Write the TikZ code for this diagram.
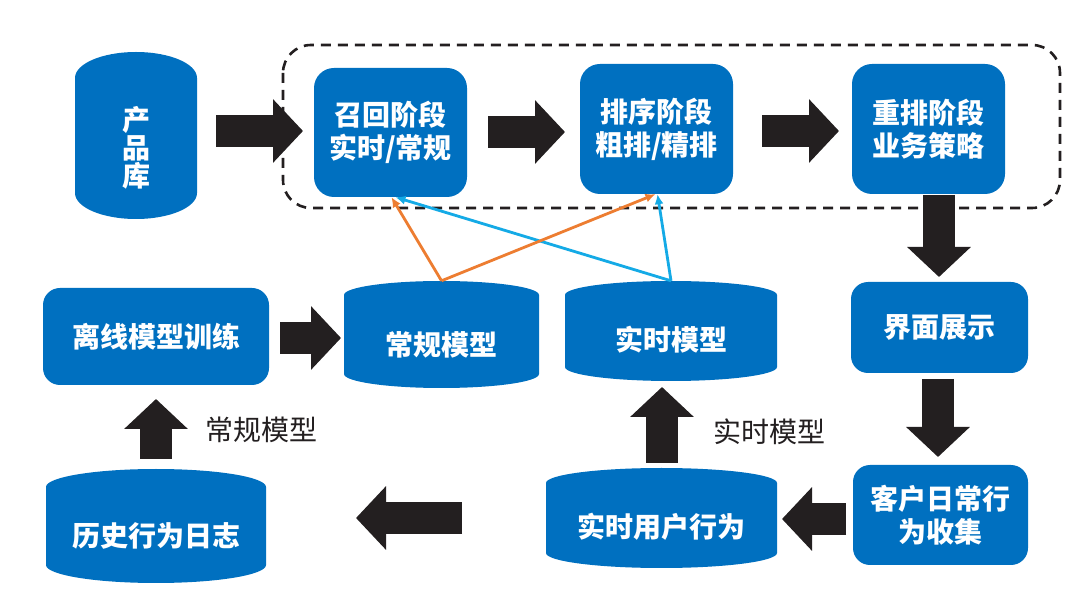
\documentclass[tikz,border=0pt]{standalone}
\usepackage{fontspec}
\setmainfont{Noto Sans CJK SC}
\usetikzlibrary{arrows.meta,calc}
\definecolor{mainblue}{RGB}{0,112,192}
\definecolor{arrowblack}{RGB}{35,31,32}
\definecolor{lineorange}{RGB}{237,125,49}
\definecolor{lineblue}{RGB}{20,170,230}
\tikzset{
  cylshape/.style={inner sep=0pt},
  cyltext/.style={inner sep=0pt, text=white, align=center, font=\bfseries\fontsize{28}{33}\selectfont},
  bluebox/.style={fill=mainblue, rounded corners=20pt, inner sep=0pt, text=white, align=center, font=\bfseries\fontsize{28}{33}\selectfont},
  blockarrow/.style={draw=arrowblack, line width=32pt, -{Triangle[length=30pt,width=62pt]}},
  frame/.style={draw=arrowblack, line width=2.6pt, dash pattern=on 10pt off 7pt, rounded corners=28pt},
  orangeline/.style={draw=lineorange, line width=2.8pt, -{Latex[length=10pt,width=9pt]}},
  blueline/.style={draw=lineblue, line width=2.8pt, -{Latex[length=10pt,width=9pt]}},
  plainlabel/.style={inner sep=0pt, text=arrowblack, font=\fontsize{28}{33}\selectfont},
}
% name, x1, x2, side top, side bottom, cap, text offset, text
\newcommand{\dbcyl}[8]{%
  \fill[mainblue] (#2,#4) -- (#2,#5) arc[start angle=180,end angle=0,x radius={(#3-#2)/2},y radius=#6] -- (#3,#4) arc[start angle=0,end angle=-180,x radius={(#3-#2)/2},y radius=#6] -- cycle;
  \node[cylshape, minimum width={(#3-#2)*1pt}, minimum height={(#5-#4+2*#6)*1pt}] (#1) at ({(#2+#3)/2},{(#4+#5)/2}) {};
  \node[cyltext] (#1t) at ([yshift=-#7pt]#1.center) {#8};
}
\begin{document}
\begin{tikzpicture}[x=1pt,y=-1pt]
\useasboundingbox (0,0) rectangle (1080,609);
\fill[white] (0,0) rectangle (1080,609);

% dashed frame
\draw[frame] (283,45) rectangle (1060,208);

% cylinders
\dbcyl{cpk}{75}{197}{78}{193}{26}{12}{产\\[-5pt]品\\[-5pt]库}
\dbcyl{cg}{344}{539}{295}{374}{14}{10}{常规模型}
\dbcyl{ss}{565}{777}{295}{367}{14}{9}{实时模型}
\dbcyl{sy}{546}{777}{483}{553}{15}{9}{实时用户行为}
\dbcyl{ls}{46}{266}{487}{565}{18}{10}{历史行为日志}

% boxes
\node[bluebox, minimum width=153pt, minimum height=129pt] (zh) at (390.5,132.5) {召回阶段\\实时/常规};
\node[bluebox, minimum width=153pt, minimum height=130pt] (px) at (656.5,129) {排序阶段\\粗排/精排};
\node[bluebox, minimum width=153pt, minimum height=130pt] (cpx) at (928.5,129) {重排阶段\\业务策略};
\node[bluebox, minimum width=177pt, minimum height=91pt, rounded corners=17pt] (jm) at (939.5,327.5) {界面展示};
\node[bluebox, minimum width=175pt, minimum height=100pt, rounded corners=17pt] (kh) at (940.5,515) {客户日常行\\为收集};
\node[bluebox, minimum width=226pt, minimum height=97pt, rounded corners=17pt] (lx) at (156,336.5) {离线模型训练};

% labels
\node[plainlabel] (lb1) at (261,430) {常规模型};
\node[plainlabel] (lb2) at (769,432) {实时模型};

% block arrow end points
\coordinate (a1s) at (216,131); \coordinate (a1e) at (303,131);
\coordinate (a2s) at (488,132); \coordinate (a2e) at (565,132);
\coordinate (a3s) at (762,131); \coordinate (a3e) at (839,131);
\coordinate (a4s) at (939,195); \coordinate (a4e) at (939,277);
\coordinate (a5s) at (938,379); \coordinate (a5e) at (938,457);
\coordinate (a6s) at (846,519); \coordinate (a6e) at (782,519);
\coordinate (a7s) at (662,463); \coordinate (a7e) at (662,387);
\coordinate (a8s) at (462,518); \coordinate (a8e) at (356,518);
\coordinate (a9s) at (156,459); \coordinate (a9e) at (156,399);
\coordinate (a10s) at (280,338); \coordinate (a10e) at (341,338);

\foreach \i in {1,...,10} {\draw[blockarrow] (a\i s) -- (a\i e);}

% thin model arrows
\draw[blueline] (ss.north) -- ([xshift=5pt]zh.south);
\draw[blueline] (ss.north) -- ([xshift=1pt]px.south);
\draw[orangeline] (cg.north) -- ([xshift=1pt]zh.south);
\draw[orangeline] (cg.north) -- ([xshift=-1pt]px.south);
\end{tikzpicture}
\end{document}
